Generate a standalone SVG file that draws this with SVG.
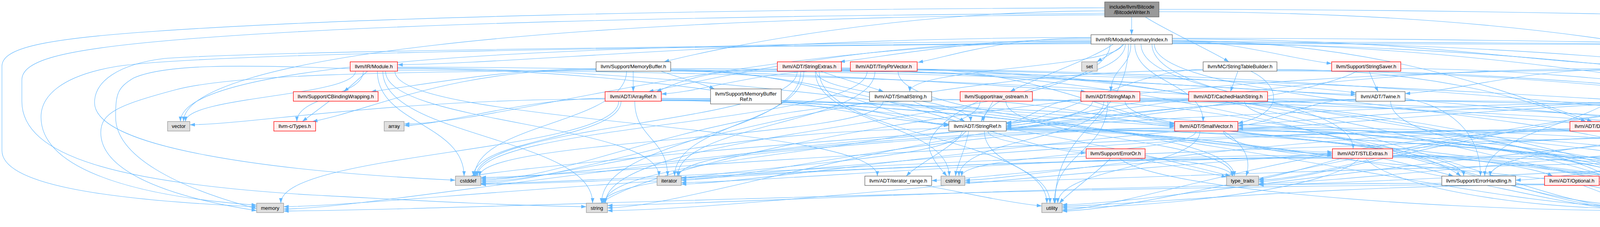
<svg xmlns="http://www.w3.org/2000/svg" width="6589" height="582" viewBox="0 0 6589 582">
<defs>
<marker id="arr" markerWidth="13" markerHeight="10" refX="13" refY="5" orient="auto" markerUnits="userSpaceOnUse"><path d="M0,0.5 L13,5 L0,9.5 z" fill="#63b8ff"/></marker>
<style>
#edges path{fill:none;stroke:#63b8ff;stroke-width:1.1;marker-end:url(#arr)}
.n rect{stroke-width:1.3}
.r rect{fill:#fff0f0;stroke:#ff0000}
.w rect{fill:#ffffff;stroke:#666666}
.g rect{fill:#e0e0e0;stroke:#999999}
.k rect{fill:#999999;stroke:#666666}
.n text{font-family:"Liberation Sans",Arial,Helvetica,sans-serif;font-size:13px;fill:#000;text-anchor:middle}
</style>
</defs>
<rect width="6589" height="582" fill="#ffffff"/>
<g id="edges">
<path d="M2897,43.5 L2897,89"/>
<path d="M2932,43.5 C2980,75 3100,130 3146,158.5"/>
<path d="M2828,28 C2300,28 1850,120 1700,158.5"/>
<path d="M2967,30 C3900,30 4450,140 4640,235"/>
<path d="M2967,24 C4500,24 6000,90 6464,165"/>
<path d="M2828,20 C1800,24 900,45 400,80 C100,100 5,125 5,170 L5,386 C5,470 250,512 657,530"/>
<path d="M2828,34 C1800,40 900,62 420,105 C160,128 56,155 56,205 L56,260 C56,400 300,470 800,500 C1100,516 1300,527 1501,530"/>
<path d="M2828,38 C1400,42 470,150 470,311.5"/>
<path d="M2793,104 C2227,104 1887,189 1660,235"/>
<path d="M3001,104 C3538,104 3861,239 4076,311.5"/>
<path d="M2921,113 C2921,247 3464,247 3464,381.5"/>
<path d="M2873,113 C2873,174 2329,174 2329,235"/>
<path d="M2905,113 C2905,212 3080,212 3080,311.5"/>
<path d="M2793,100 C2500,100 2300,140 2150,158.5"/>
<path d="M2895,113 C2895,174 2844,174 2844,235"/>
<path d="M2881,113 C2881,212 2518,212 2518,311.5"/>
<path d="M2793,97 C2570,97 2450,140 2350,160"/>
<path d="M3001,108 C5500,108 6420,150 6498,381.5"/>
<path d="M3001,100 C3600,100 3900,155 4119,165"/>
<path d="M2793,96 C2000,96 1300,164 1018,166"/>
<path d="M3001,110 C3826,110 4300,236 4607,240"/>
<path d="M3001,112 C4220,112 4920,286 5400,381.5"/>
<path d="M3001,106 C4000,106 4900,200 4965,311.5"/>
<path d="M3001,104 C3150,104 3300,150 3409,163"/>
<path d="M2850,113 C2800,150 2650,200 2586,235"/>
<path d="M2955,113 C2955,282 4307,282 4307,451.5"/>
<path d="M2793,108 C1900,108 1300,315 1035,318"/>
<path d="M2949,113 C2949,317 4170,317 4170,521"/>
<path d="M2793,110 C1800,118 700,130 420,150 C300,165 242,210 242,263 C242,380 700,440 1166,462"/>
<path d="M3001,112 C4500,112 6000,120 6150,160 C6210,200 6210,380 6150,430 C6100,458 6050,462 6000,463"/>
<path d="M3001,98 C4500,98 6000,160 6464,168"/>
<path d="M2793,112 C1500,120 500,140 300,170 C150,195 105,250 105,300 C105,420 300,500 657,526"/>
<path d="M2878,113 C2860,130 2830,145 2808,158.5"/>
<path d="M2842,113 C2842,317 1550,317 1550,521"/>
<path d="M2889,113 C2889,317 2701,317 2701,521"/>
<path d="M2793,106 C1500,110 462,150 462,311.5"/>
<path d="M930,182.5 C930,247 760,247 760,311.5"/>
<path d="M941,182.5 C920,200 900,220 880,235"/>
<path d="M1018,174 C2000,174 3000,385 3411,390"/>
<path d="M1018,172 C1900,172 2500,215 2780,235"/>
<path d="M1018,176 C1760,176 2200,312 2429,318"/>
<path d="M1011,182.5 C1011,317 2246,317 2246,451.5"/>
<path d="M966,182.5 C966,317 1188,317 1188,451.5"/>
<path d="M1018,180 C3500,180 5000,455 5940,460"/>
<path d="M987,182.5 C987,317 1687,317 1687,451.5"/>
<path d="M896,176 C600,165 420,165 342,200 C300,225 296,242 296,300 C296,400 450,480 657,535"/>
<path d="M980,182.5 C980,352 1517,352 1517,521"/>
<path d="M910,182.5 C910,247 475,247 475,311.5"/>
<path d="M843,259.5 L774,311.5"/>
<path d="M1621,182.5 L1621,235"/>
<path d="M1526,178 C1150,178 960,280 800,311.5"/>
<path d="M1717,178 C2100,178 2300,316 2429,320"/>
<path d="M1717,176 C2600,176 3200,236 3471,242"/>
<path d="M1526,176 C1300,176 1100,215 950,235"/>
<path d="M1717,180 C3500,180 4800,312 5147,316"/>
<path d="M1717,181 C2200,181 2600,388 2780,392"/>
<path d="M1692,182.5 C1740,200 1800,215 1829,228"/>
<path d="M1604,182.5 C1604,317 1215,317 1215,451.5"/>
<path d="M1717,182 C3800,182 5200,458 5940,463"/>
<path d="M1526,180 C1000,185 600,190 450,230 C300,270 258,290 258,340 C258,430 400,500 657,540"/>
<path d="M1693,252 C2300,252 2800,318 3007,322"/>
<path d="M1693,256 C2500,256 3100,390 3411,394"/>
<path d="M1693,258 C3500,258 4700,528 5234,531"/>
<path d="M1693,254 C3000,254 3900,458 4301,462"/>
<path d="M1549,252 C1350,252 1150,318 1035,322"/>
<path d="M1693,257 C2900,257 3700,525 4165,529"/>
<path d="M1590,259.5 C1590,355.5 1212,355.5 1212,451.5"/>
<path d="M1625,259.5 C1625,355 1709,355 1709,451.5"/>
<path d="M1584,259.5 C1584,390 719,390 719,521"/>
<path d="M1693,258 C2400,258 2950,400 3150,451.5"/>
<path d="M1549,254 C1000,254 650,318 486,320"/>
<path d="M2000,262 C2200,262 2350,318 2429,322"/>
<path d="M1990,177 C1800,177 1730,215 1680,235"/>
<path d="M2100,182.5 C2150,200 2220,220 2262,235"/>
<path d="M2089,182.5 C2089,247 2485,247 2485,311.5"/>
<path d="M2154,178 C2800,178 3300,215 3471,238"/>
<path d="M2154,180 C3200,180 3800,520 4165,526"/>
<path d="M2041,182.5 C2041,317 1219,317 1219,451.5"/>
<path d="M2154,176 C4000,176 5400,452 5940,457"/>
<path d="M2154,174 C3200,174 3900,455 4167,460"/>
<path d="M2087,182.5 C2087,317 2430,317 2430,451.5"/>
<path d="M2058,182.5 C2058,317 1727,317 1727,451.5"/>
<path d="M2050,182.5 C2050,352 1540,352 1540,521"/>
<path d="M2097,182.5 C2097,352 2680,352 2680,521"/>
<path d="M2177,178 C1950,178 1800,236 1693,241"/>
<path d="M2348,178 C2650,178 2900,312 3007,316"/>
<path d="M2348,180 C3300,180 3900,528 4165,533"/>
<path d="M2220,182.5 C2220,317 1222,317 1222,451.5"/>
<path d="M2240,182.5 C2240,317 1735,317 1735,451.5"/>
<path d="M2299,182.5 C2299,317 3160,317 3160,451.5"/>
<path d="M2385,254 C2700,254 2900,320 3007,325"/>
<path d="M2337,259.5 C2380,280 2440,295 2470,311.5"/>
<path d="M2261,259.5 C2261,355.5 1228,355.5 1228,451.5"/>
<path d="M2542,259.5 C2535,275 2520,295 2512,311.5"/>
<path d="M2643,254 C2800,254 2920,314 3007,318"/>
<path d="M2643,256 C3400,256 3900,530 4165,535"/>
<path d="M2458,256 C1800,256 1500,458 1231,462"/>
<path d="M2643,258 C4300,258 5500,462 5940,466"/>
<path d="M2505,259.5 C2420,300 2370,350 2380,385 C2390,415 2410,435 2424,451.5"/>
<path d="M2509,259.5 C2509,390 1548,390 1548,521"/>
<path d="M2575,259.5 C2575,355 3156,355 3156,451.5"/>
<path d="M2576,330 C3000,330 3300,394 3411,398"/>
<path d="M2474,336 C2420,390 2350,420 2320,451.5"/>
<path d="M2576,332 C4000,332 5000,532 5234,536"/>
<path d="M2576,328 C3500,328 4100,462 4301,466"/>
<path d="M2576,334 C3400,334 3950,533 4165,537"/>
<path d="M2429,330 C1800,330 1450,462 1231,466"/>
<path d="M2480,336 C2470,390 2450,420 2446,451.5"/>
<path d="M2576,332 C3600,332 4250,430 4410,451.5"/>
<path d="M2463,336 C2463,428.5 1545,428.5 1545,521"/>
<path d="M2529,336 C2529,394 3154,394 3154,451.5"/>
<path d="M2520,336 C2520,428 2688,428 2688,521"/>
<path d="M2368,475.5 C2450,490 2580,520 2667,528"/>
<path d="M2767,254 C2680,254 2630,312 2576,316"/>
<path d="M2918,252 C4200,252 5100,314 5439,318"/>
<path d="M2880,259.5 C2880,355.5 3747,355.5 3747,451.5"/>
<path d="M2797,259.5 C2797,355.5 1738,355.5 1738,451.5"/>
<path d="M2918,256 C3600,256 4100,452 4301,456"/>
<path d="M2918,258 C4500,258 5600,464 5940,468"/>
<path d="M2918,254 C3500,254 4100,400 4180,451.5"/>
<path d="M2826,259.5 C2826,355.5 2455,355.5 2455,451.5"/>
<path d="M2836,259.5 C2836,390 2699,390 2699,521"/>
<path d="M3169,182.5 C3163,200 3156,218 3150,235"/>
<path d="M3202,182.5 C3280,220 3290,290 3169,316"/>
<path d="M3269,178 C3700,178 3950,270 4060,311.5"/>
<path d="M3080,178 C2900,178 2700,312 2576,318"/>
<path d="M3269,180 C4200,180 4900,316 5147,320"/>
<path d="M3080,180 C2200,180 1500,466 1231,470"/>
<path d="M3269,182 C4600,182 5500,468 5940,471"/>
<path d="M3043,254 C2850,254 2700,318 2576,322"/>
<path d="M3186,259.5 C3186,355.5 4178,355.5 4178,451.5"/>
<path d="M3169,330 C4400,330 5000,536 5234,540"/>
<path d="M3169,332 C3500,332 3700,420 3740,451.5"/>
<path d="M3169,326 C4000,326 4450,386 4603,390"/>
<path d="M3132,336 C3200,380 3200,420 3190,451.5"/>
<path d="M3169,334 C3800,334 4150,456 4301,460"/>
<path d="M3132,336 C3132,428.5 4172,428.5 4172,521"/>
<path d="M3007,330 C2200,330 1500,455 1231,458"/>
<path d="M3169,336 C3700,336 4100,420 4170,451.5"/>
<path d="M3062,336 C3062,394 2462,394 2462,451.5"/>
<path d="M3007,328 C2400,328 1950,458 1744,462"/>
<path d="M3169,330 C3900,330 4350,420 4420,451.5"/>
<path d="M3007,334 C2000,334 1000,533 726,536"/>
<path d="M3072,336 C3072,428.5 2708,428.5 2708,521"/>
<path d="M2866,406 C2950,480 3600,536 4165,540"/>
<path d="M2911,406 C3000,425 3080,440 3140,454"/>
<path d="M2843,406 C2800,450 2740,490 2712,521"/>
<path d="M3505,182.5 C3512,200 3520,218 3528,235"/>
<path d="M3474,182.5 C3350,250 2800,318 2576,326"/>
<path d="M3586,176 C4000,176 4450,244 4607,248"/>
<path d="M3471,254 C3350,254 3250,320 3169,322"/>
<path d="M3471,256 C3000,256 2700,326 2576,330"/>
<path d="M3597,252 C3700,270 3790,330 3790,451.5"/>
<path d="M3560,259.5 C3560,390 4180,390 4180,521"/>
<path d="M3597,258 C5000,258 5850,380 5955,451.5"/>
<path d="M3471,258 C2500,258 1800,530 1555,533"/>
<path d="M3565,400 C3750,400 3930,430 3975,451.5"/>
<path d="M3411,402 C2900,402 2500,460 2385,463"/>
<path d="M3538,406 C3600,420 3680,440 3721,451.5"/>
<path d="M3565,404 C3900,404 4150,466 4301,470"/>
<path d="M3496,406 C3560,480 3900,533 4165,535"/>
<path d="M3411,404 C2500,404 1600,470 1231,473"/>
<path d="M3565,400 C5000,400 5700,468 5940,472"/>
<path d="M3565,398 C3900,398 4050,462 4167,466"/>
<path d="M3411,398 C2700,398 2000,465 1744,468"/>
<path d="M3565,402 C4000,402 4350,425 4412,451.5"/>
<path d="M3411,406 C2000,406 1000,527 726,530"/>
<path d="M3435,406 C3380,420 3280,450 3222,460"/>
<path d="M3479,406 C3420,480 3000,530 2719,533"/>
<path d="M3880,472 C4500,472 5000,532 5234,535"/>
<path d="M3691,470 C2800,470 1800,524 1555,527"/>
<path d="M4119,176 C3300,176 2800,310 2576,314"/>
<path d="M4119,178 C3900,180 3750,230 3597,240"/>
<path d="M4177,182.5 C4177,317 3801,317 3801,451.5"/>
<path d="M4197,182.5 C4230,300 4240,450 4215,521"/>
<path d="M4267,178 C5200,178 5900,380 5962,451.5"/>
<path d="M4119,180 C2800,180 1700,400 1538,521"/>
<path d="M4173,334 C4700,334 5150,480 5262,521"/>
<path d="M4173,330 C4800,330 5200,386 5351,390"/>
<path d="M4173,332 C4400,332 4520,390 4603,394"/>
<path d="M4019,330 C3700,330 3400,458 3222,462"/>
<path d="M4129,336 C4230,370 4310,410 4323,451.5"/>
<path d="M4110,336 C4110,428.5 4190,428.5 4190,521"/>
<path d="M4019,334 C2800,334 1500,452 1231,455"/>
<path d="M4019,336 C3300,336 2650,458 2470,462"/>
<path d="M4019,332 C2900,332 2000,452 1744,456"/>
<path d="M4019,336 C3400,336 2900,535 2719,538"/>
<path d="M4094,472 C4700,472 5100,536 5234,538"/>
<path d="M4053,475.5 C4090,490 4140,508 4170,521"/>
<path d="M3954,472 C2500,478 1200,538 726,541"/>
<path d="M3954,474 C3400,474 2900,526 2719,529"/>
<path d="M4686,259.5 L4686,381.5"/>
<path d="M4607,254 C4000,254 3400,326 3169,330"/>
<path d="M4766,254 C4950,254 5080,316 5147,318"/>
<path d="M4766,256 C5100,256 5350,316 5439,320"/>
<path d="M4711,259.5 C4711,390 5290,390 5290,521"/>
<path d="M4650,259.5 C4650,355.5 3815,355.5 3815,451.5"/>
<path d="M4766,258 C5100,258 5350,340 5395,381.5"/>
<path d="M4672,259.5 C4672,355.5 4353,355.5 4353,451.5"/>
<path d="M4666,259.5 C4666,390 4210,390 4210,521"/>
<path d="M4607,258 C3000,258 1400,420 1205,451.5"/>
<path d="M4766,256 C5500,256 5930,360 5965,451.5"/>
<path d="M4660,259.5 C4660,355.5 4212,355.5 4212,451.5"/>
<path d="M4607,256 C3200,256 2000,470 1744,472"/>
<path d="M4607,258 C4000,258 3400,462 3222,466"/>
<path d="M4607,259 C3900,259 3000,538 2719,541"/>
<path d="M4738,406 C4900,450 5200,500 5270,521"/>
<path d="M4603,402 C4300,402 4000,458 3880,462"/>
<path d="M4603,404 C4450,404 4300,458 4227,462"/>
<path d="M5072,333 C5200,350 5300,375 5351,386"/>
<path d="M4877,330 C4600,330 4450,458 4376,462"/>
<path d="M5072,334 C5500,334 5800,455 5940,458"/>
<path d="M4877,332 C4700,332 4520,460 4453,464"/>
<path d="M4877,334 C3500,334 2000,538 1555,540"/>
<path d="M4877,336 C4000,336 3000,522 2719,525"/>
<path d="M5266,336 C5320,350 5380,365 5410,381.5"/>
<path d="M5147,334 C4800,334 4400,530 4229,533"/>
<path d="M5147,332 C4700,340 4300,460 4094,466"/>
<path d="M5612,336 C5720,400 5720,500 5600,520 C5500,530 5450,532 5395,533"/>
<path d="M5439,334 C5200,334 4900,394 4770,398"/>
<path d="M5439,336 C3500,336 1600,468 1231,471"/>
<path d="M5439,334 C4500,334 3500,468 3222,471"/>
<path d="M5423,406 C5400,460 5360,500 5340,521"/>
<path d="M5351,402 C4900,402 4500,465 4376,468"/>
<path d="M5351,404 C4800,404 4400,525 4229,528"/>
<path d="M5528,402 C5750,402 5880,460 5940,464"/>
<path d="M5351,404 C4000,404 2800,464 2470,467"/>
<path d="M5351,406 C5000,406 4600,467 4453,470"/>
<path d="M5351,406 C4500,406 3500,472 3222,474"/>
<path d="M6496,406 C6470,480 6300,520 5395,540"/>
<path d="M6414,405 C6200,430 6080,460 6000,466"/>
</g>
<g id="nodes">
<g id="node-root" class="n k"><rect x="2828" y="5" width="139" height="38.5"/><text x="2897.5" y="22">include/llvm/Bitcode</text><text x="2897.5" y="36">/BitcodeWriter.h</text></g>
<g id="node-msi" class="n w"><rect x="2793" y="89" width="208" height="24"/><text x="2897" y="105.5">llvm/IR/ModuleSummaryIndex.h</text></g>
<g id="node-module" class="n r"><rect x="896.5" y="158.5" width="121" height="24"/><text x="957" y="175">llvm/IR/Module.h</text></g>
<g id="node-memorybuffer" class="n w"><rect x="1526" y="158.5" width="191" height="24"/><text x="1621.5" y="175">llvm/Support/MemoryBuffer.h</text></g>
<g id="node-stringextras" class="n r"><rect x="1990" y="158.5" width="164" height="24"/><text x="2072" y="175">llvm/ADT/StringExtras.h</text></g>
<g id="node-tinyptrvector" class="n r"><rect x="2177" y="158.5" width="171" height="24"/><text x="2262.5" y="175">llvm/ADT/TinyPtrVector.h</text></g>
<g id="node-set" class="n g"><rect x="2769" y="158.5" width="40" height="24"/><text x="2789" y="175">set</text></g>
<g id="node-stringtablebuilder" class="n w"><rect x="3080" y="158.5" width="189" height="24"/><text x="3174.5" y="175">llvm/MC/StringTableBuilder.h</text></g>
<g id="node-stringsaver" class="n r"><rect x="3409" y="158.5" width="177" height="24"/><text x="3497.5" y="175">llvm/Support/StringSaver.h</text></g>
<g id="node-globalvalue" class="n r"><rect x="4119" y="158.5" width="148" height="24"/><text x="4193" y="175">llvm/IR/GlobalValue.h</text></g>
<g id="node-map" class="n g"><rect x="6464" y="158.5" width="47" height="24"/><text x="6487.5" y="175">map</text></g>
<g id="node-cbindingwrapping" class="n r"><rect x="751" y="235" width="217" height="24.5"/><text x="859.5" y="251.8">llvm/Support/CBindingWrapping.h</text></g>
<g id="node-arrayref" class="n r"><rect x="1549" y="235" width="144" height="24.5"/><text x="1621" y="251.8">llvm/ADT/ArrayRef.h</text></g>
<g id="node-memorybufferref" class="n w"><rect x="1819" y="228" width="181" height="38.5"/><text x="1909.5" y="245">llvm/Support/MemoryBuffer</text><text x="1909.5" y="259">Ref.h</text></g>
<g id="node-smallstring" class="n w"><rect x="2226" y="235" width="159" height="24.5"/><text x="2305.5" y="251.8">llvm/ADT/SmallString.h</text></g>
<g id="node-raw_ostream" class="n r"><rect x="2458" y="235" width="185" height="24.5"/><text x="2550.5" y="251.8">llvm/Support/raw_ostream.h</text></g>
<g id="node-stringmap" class="n r"><rect x="2767" y="235" width="151" height="24.5"/><text x="2842.5" y="251.8">llvm/ADT/StringMap.h</text></g>
<g id="node-cachedhashstring" class="n r"><rect x="3043" y="235" width="202" height="24.5"/><text x="3144" y="251.8">llvm/ADT/CachedHashString.h</text></g>
<g id="node-twine" class="n w"><rect x="3471" y="235" width="126" height="24.5"/><text x="3534" y="251.8">llvm/ADT/Twine.h</text></g>
<g id="node-allocator" class="n w"><rect x="4607" y="235" width="159" height="24.5"/><text x="4686.5" y="251.8">llvm/Support/Allocator.h</text></g>
<g id="node-vector" class="n g"><rect x="429" y="311.5" width="57" height="24.5"/><text x="457.5" y="328.3">vector</text></g>
<g id="node-types" class="n r"><rect x="701" y="311.5" width="107" height="24.5"/><text x="754.5" y="328.3">llvm-c/Types.h</text></g>
<g id="node-array" class="n g"><rect x="983.5" y="311.5" width="51" height="24.5"/><text x="1009" y="328.3">array</text></g>
<g id="node-stringref" class="n w"><rect x="2429" y="311.5" width="147" height="24.5"/><text x="2502.5" y="328.3">llvm/ADT/StringRef.h</text></g>
<g id="node-smallvector" class="n r"><rect x="3007" y="311.5" width="162" height="24.5"/><text x="3088" y="328.3">llvm/ADT/SmallVector.h</text></g>
<g id="node-densemap" class="n r"><rect x="4019" y="311.5" width="154" height="24.5"/><text x="4096" y="328.3">llvm/ADT/DenseMap.h</text></g>
<g id="node-scalednumber" class="n r"><rect x="4877" y="311.5" width="195" height="24.5"/><text x="4974.5" y="328.3">llvm/Support/ScaledNumber.h</text></g>
<g id="node-alignment" class="n w"><rect x="5147" y="311.5" width="167" height="24.5"/><text x="5230.5" y="328.3">llvm/Support/Alignment.h</text></g>
<g id="node-allocatorbase" class="n w"><rect x="5439" y="311.5" width="191" height="24.5"/><text x="5534.5" y="328.3">llvm/Support/AllocatorBase.h</text></g>
<g id="node-erroror" class="n r"><rect x="2780.5" y="381.5" width="151" height="24.5"/><text x="2856" y="398.3">llvm/Support/ErrorOr.h</text></g>
<g id="node-stlextras" class="n r"><rect x="3411" y="381.5" width="154" height="24.5"/><text x="3488" y="398.3">llvm/ADT/STLExtras.h</text></g>
<g id="node-memalloc" class="n w"><rect x="4603" y="381.5" width="167" height="24.5"/><text x="4686.5" y="398.3">llvm/Support/MemAlloc.h</text></g>
<g id="node-mathextras" class="n r"><rect x="5351" y="381.5" width="177" height="24.5"/><text x="5439.5" y="398.3">llvm/Support/MathExtras.h</text></g>
<g id="node-constantrange" class="n r"><rect x="6414" y="381.5" width="171" height="24.5"/><text x="6499.5" y="398.3">llvm/IR/ConstantRange.h</text></g>
<g id="node-cstddef" class="n g"><rect x="1166" y="451.5" width="65" height="24"/><text x="1198.5" y="468">cstddef</text></g>
<g id="node-iterator" class="n g"><rect x="1682" y="451.5" width="62" height="24"/><text x="1713" y="468">iterator</text></g>
<g id="node-iterator_range" class="n w"><rect x="2214" y="451.5" width="171" height="24"/><text x="2299.5" y="468">llvm/ADT/iterator_range.h</text></g>
<g id="node-cstring" class="n g"><rect x="2409" y="451.5" width="61" height="24"/><text x="2439.5" y="468">cstring</text></g>
<g id="node-type_traits" class="n g"><rect x="3140" y="451.5" width="82" height="24"/><text x="3181" y="468">type_traits</text></g>
<g id="node-errorhandling" class="n w"><rect x="3691" y="451.5" width="189" height="24"/><text x="3785.5" y="468">llvm/Support/ErrorHandling.h</text></g>
<g id="node-optional" class="n r"><rect x="3954" y="451.5" width="140" height="24"/><text x="4024" y="468">llvm/ADT/Optional.h</text></g>
<g id="node-cstdlib" class="n g"><rect x="4167" y="451.5" width="60" height="24"/><text x="4197" y="468">cstdlib</text></g>
<g id="node-algorithm" class="n g"><rect x="4301" y="451.5" width="75" height="24"/><text x="4338.5" y="468">algorithm</text></g>
<g id="node-limits" class="n g"><rect x="4400" y="451.5" width="53" height="24"/><text x="4426.5" y="468">limits</text></g>
<g id="node-cstdint" class="n g"><rect x="5940" y="451.5" width="60" height="24"/><text x="5970" y="468">cstdint</text></g>
<g id="node-memory" class="n g"><rect x="657" y="521" width="69" height="24"/><text x="691.5" y="537.5">memory</text></g>
<g id="node-string" class="n g"><rect x="1501" y="521" width="54" height="24"/><text x="1528" y="537.5">string</text></g>
<g id="node-utility" class="n g"><rect x="2667" y="521" width="52" height="24"/><text x="2693" y="537.5">utility</text></g>
<g id="node-cassert" class="n g"><rect x="4165" y="521" width="64.5" height="24"/><text x="4197.2" y="537.5">cassert</text></g>
<g id="node-compiler" class="n r"><rect x="5234" y="521" width="161" height="24"/><text x="5314.5" y="537.5">llvm/Support/Compiler.h</text></g>
</g>
</svg>
